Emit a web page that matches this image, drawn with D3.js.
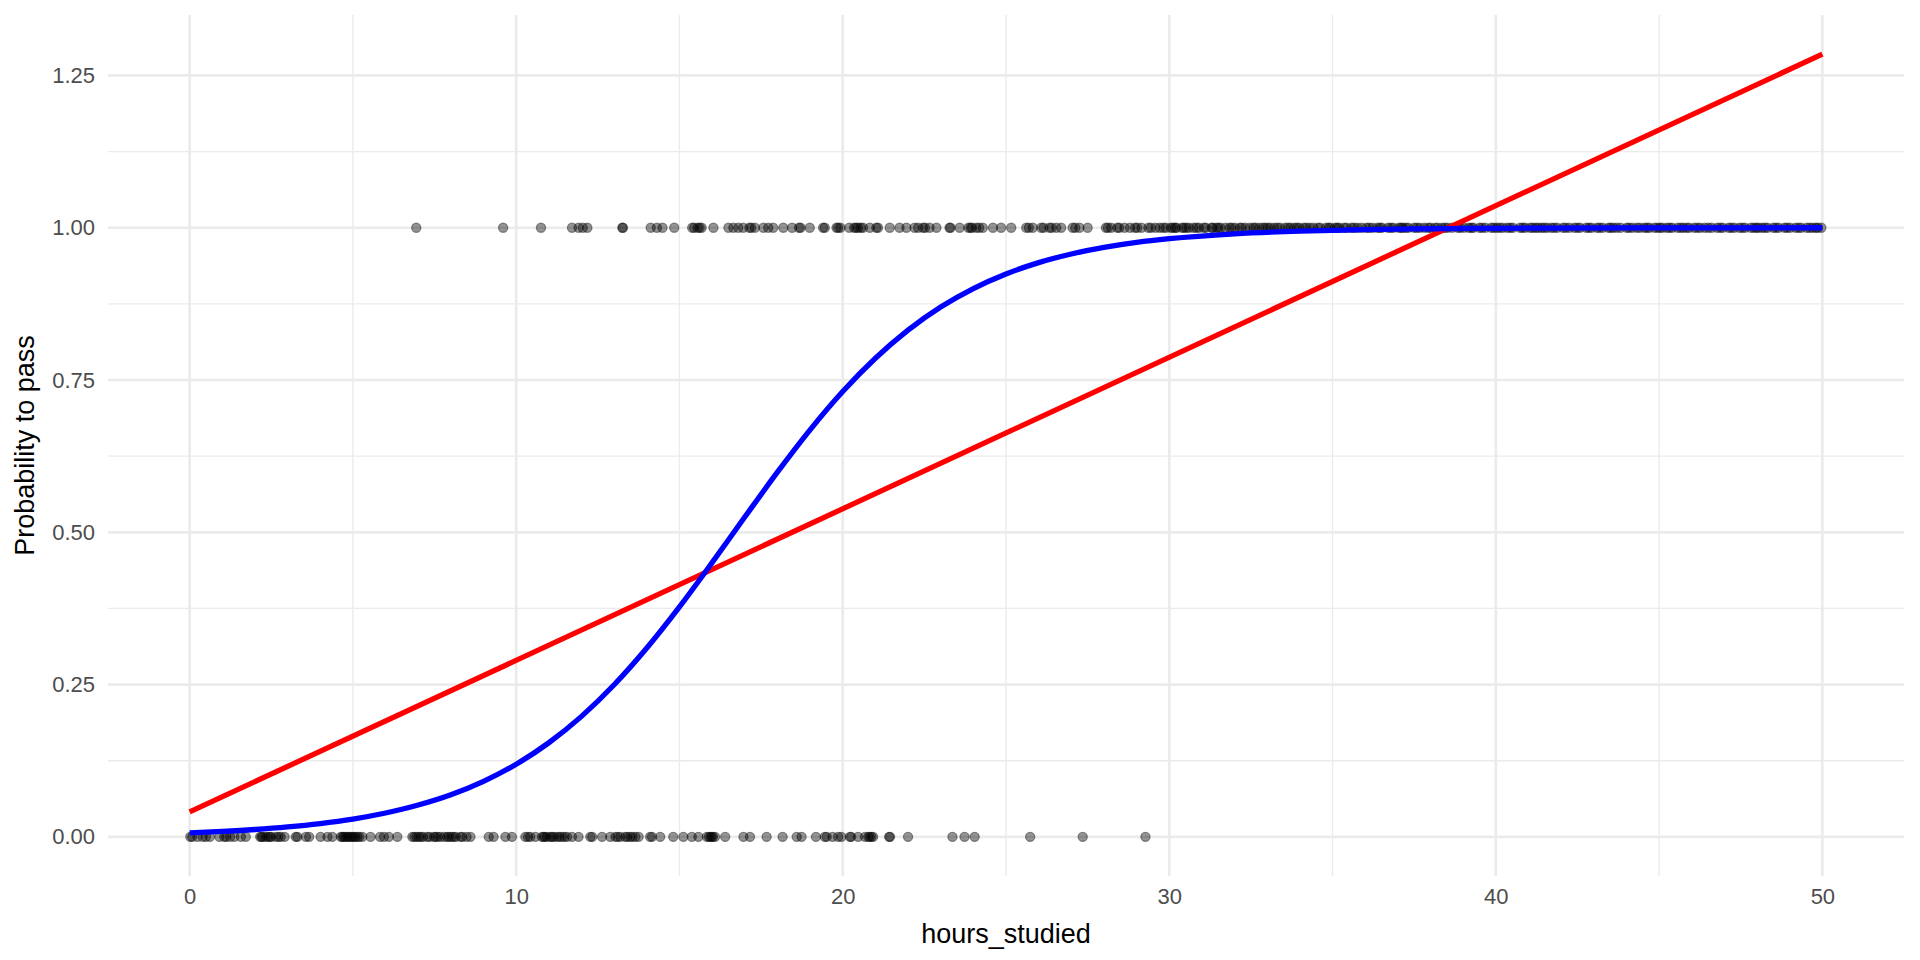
<!DOCTYPE html>
<html>
<head>
<meta charset="utf-8">
<script src="https://cdn.jsdelivr.net/npm/d3@7"></script>
<style>
  body { margin: 0; background: #fff; }
  text { font-family: "Liberation Sans", Arial, sans-serif; }
</style>
</head>
<body>
<div id="chart"></div>
<script>
var w = 1920, h = 960;

// students who passed (y = 1), hours studied
var passHours = [6.94, 9.60, 10.76, 11.71, 11.91, 12.04, 12.18, 13.25, 13.27, 14.12, 14.31, 14.48, 14.84,
  15.39, 15.45, 15.56, 15.68, 16.04, 16.50, 16.65, 16.80, 16.95, 17.14, 17.31,
  17.57, 17.72, 17.87, 18.18, 18.45, 18.71, 18.99, 19.40, 19.45, 19.81, 19.86, 20.20, 20.35, 20.41,
  20.47, 20.62, 20.83, 21.03, 21.44, 21.74, 21.95, 22.20, 22.46, 22.52, 22.66, 22.87, 23.27, 23.30,
  23.58, 23.91, 23.96, 24.09, 24.29, 24.60, 24.85, 25.16, 25.62, 25.82, 26.08, 26.33, 26.40, 26.54,
  26.69, 27.04, 27.25, 27.50, 28.06, 28.12, 28.22,
  28.41, 28.63, 28.80, 29.02, 29.15, 29.36, 29.58, 29.71, 29.90, 30.05, 30.18, 30.22, 30.39, 30.52,
  30.60, 30.74, 30.91, 31.06, 31.30, 31.33, 31.44, 31.57, 31.72, 31.85, 32.01, 32.16, 32.33, 32.47,
  32.58, 32.76, 32.94, 33.02, 33.10, 33.22, 33.39, 33.55, 33.71, 33.83, 33.98, 34.12, 34.30, 34.41,
  34.62, 34.80, 34.93, 35.08, 35.20, 35.43, 35.58, 35.76, 35.89, 36.04, 36.22, 36.37, 36.51, 36.70,
  36.86, 37.03, 37.10, 37.15, 37.32, 37.50, 37.67, 37.81, 38.00, 38.14, 38.35, 38.52, 38.66, 38.84,
  39.02, 39.17, 39.31, 39.50, 39.68, 39.86, 40.03, 40.21, 40.35, 40.52, 40.74, 40.90, 41.05, 41.22,
  41.30, 41.40, 41.57, 41.70, 41.88, 42.06, 42.25, 42.41, 42.58, 42.77, 42.93, 43.10, 43.27, 43.45,
  43.60, 43.82, 44.01, 44.18, 44.32, 44.55, 44.70, 44.86, 45.03, 45.10, 45.24, 45.40, 45.57, 45.74,
  45.92, 46.08, 46.26, 46.40, 46.61, 46.78, 46.95, 47.13, 47.30, 47.46, 47.63, 47.81, 47.98, 48.04,
  48.15, 48.32, 48.50, 48.66, 48.84, 49.01, 49.18, 49.35, 49.52, 49.70, 49.86, 49.97,
  15.62, 17.20, 18.66, 19.93, 20.55, 21.08, 22.31, 23.85, 24.18, 25.70, 26.15, 27.12,
  28.47, 28.95, 29.44, 29.82, 30.11, 30.45, 30.83, 31.12, 31.50, 31.91, 32.22, 32.64, 32.87, 33.31,
  33.64, 33.91, 34.20, 34.55, 34.88, 35.14, 35.35, 35.66, 36.12, 36.45, 36.78, 37.24, 37.58, 37.93,
  38.22, 38.44, 38.91, 39.25, 39.58, 39.94, 40.12, 40.44, 40.82, 41.13, 41.48, 41.79, 42.14, 42.50,
  42.85, 43.18, 43.52, 43.71, 44.08, 44.41, 44.63, 44.95, 45.32, 45.66, 45.84, 46.17, 46.51, 46.87,
  47.21, 47.55, 47.90, 48.24, 48.58, 48.92, 49.27, 49.61, 49.80];

// students who failed (y = 0), hours studied
var failHours = [0.02, 0.24, 0.40, 0.50, 0.91, 1.06, 1.24, 1.37, 1.57, 1.72, 2.16, 2.20, 2.33, 2.46,
  2.50, 2.64, 2.79, 2.91, 3.25, 3.56, 3.66, 4.01, 4.22, 4.37, 4.68, 4.72, 4.83, 4.88, 4.98, 5.03,
  5.14, 5.29, 5.54, 5.83, 5.95, 6.10, 6.36, 6.82, 7.02, 7.08, 7.28, 7.48, 7.53, 7.68, 7.89, 7.95,
  8.09, 8.30, 8.35, 8.60, 9.16, 9.31, 9.67,
  9.87, 10.28, 10.43, 10.59, 10.79, 10.84, 10.94, 11.10, 11.15, 11.25, 11.40, 11.56, 11.71, 11.91,
  12.27, 12.63, 12.88, 13.04, 13.19, 13.34, 13.40, 13.49, 13.65, 13.75, 14.10, 14.41, 14.81, 15.12,
  15.38, 15.58, 15.84, 15.90, 15.99, 16.09, 16.40, 16.96, 17.16, 17.67, 18.16, 18.59, 18.74,
  19.18, 19.45, 19.69, 19.86, 19.96, 20.22, 20.47, 20.68, 20.78, 20.83, 20.93, 21.42, 21.45, 22.00,
  23.36, 23.73, 24.04, 25.74, 27.35, 29.27,
  0.08, 0.62, 1.12, 2.24, 2.40, 2.72, 3.30, 4.63, 4.77, 4.93, 5.08, 5.20, 6.88, 6.95, 7.15, 7.35,
  7.60, 7.80, 8.02, 8.15, 8.48, 10.36, 10.88, 11.04, 11.32, 11.48, 12.33, 13.11, 13.56, 14.16,
  15.95, 16.03, 19.51, 20.26, 20.88];

// fitted logistic curve
var logitX = [0, 1, 2, 3, 4, 5, 6, 7, 8, 9, 10, 11, 12, 13, 14, 15, 16, 17, 18, 19, 20, 21, 22, 23, 24,
  25, 26, 27, 28, 29, 30, 32, 34, 36, 38, 40, 42, 44, 46, 48, 50];
var logitY = [0.0067, 0.0090, 0.0121, 0.0163, 0.0219, 0.0293, 0.0392, 0.0522, 0.0691, 0.0911, 0.1192,
  0.1545, 0.1978, 0.2497, 0.3100, 0.3775, 0.4502, 0.5250, 0.5987, 0.6682, 0.7311, 0.7858, 0.8320,
  0.8699, 0.9002, 0.9241, 0.9427, 0.9569, 0.9677, 0.9759, 0.9820, 0.9900, 0.9945, 0.9970, 0.9983,
  0.9991, 0.9995, 0.9997, 0.9998, 0.9999, 1.0000];

// fitted linear model, endpoints
var linearX = [0, 50];
var linearY = [0.041, 1.285];

var xTicks = [0, 10, 20, 30, 40, 50];
var xMinor = [5, 15, 25, 35, 45];
var yTicks = [0, 0.25, 0.5, 0.75, 1, 1.25];
var yMinor = [0.125, 0.375, 0.625, 0.875, 1.125];

var panelL = 108, panelR = 1904, panelT = 15, panelB = 876;

var x = d3.scaleLinear().domain([-2.5, 52.5]).range([panelL, panelR]);
var y = d3.scaleLinear().domain([-0.06425, 1.34925]).range([panelB, panelT]);

var svg = d3.select('#chart').append('svg')
  .attr('width', w)
  .attr('height', h);

var grid = svg.append('g');

// minor grid
grid.selectAll('.vminor').data(xMinor).enter().append('line')
  .attr('x1', function(d) { return x(d); })
  .attr('x2', function(d) { return x(d); })
  .attr('y1', panelT).attr('y2', panelB)
  .attr('stroke', '#EBEBEB').attr('stroke-width', 1.35);
grid.selectAll('.hminor').data(yMinor).enter().append('line')
  .attr('y1', function(d) { return y(d); })
  .attr('y2', function(d) { return y(d); })
  .attr('x1', panelL).attr('x2', panelR)
  .attr('stroke', '#EBEBEB').attr('stroke-width', 1.35);

// major grid
grid.selectAll('.vmajor').data(xTicks).enter().append('line')
  .attr('x1', function(d) { return x(d); })
  .attr('x2', function(d) { return x(d); })
  .attr('y1', panelT).attr('y2', panelB)
  .attr('stroke', '#EBEBEB').attr('stroke-width', 2.7);
grid.selectAll('.hmajor').data(yTicks).enter().append('line')
  .attr('y1', function(d) { return y(d); })
  .attr('y2', function(d) { return y(d); })
  .attr('x1', panelL).attr('x2', panelR)
  .attr('stroke', '#EBEBEB').attr('stroke-width', 2.7);

// axes (text only, like theme_minimal)
svg.append('g')
  .attr('transform', 'translate(0,' + panelB + ')')
  .call(d3.axisBottom(x).tickValues(xTicks).tickSize(0).tickPadding(12).tickFormat(d3.format('d')));
svg.append('g')
  .attr('transform', 'translate(' + panelL + ',0)')
  .call(d3.axisLeft(y).tickValues(yTicks).tickSize(0).tickPadding(13).tickFormat(d3.format('.2f')));
svg.selectAll('.domain').remove();
svg.selectAll('.tick text')
  .style('font-family', '"Liberation Sans", Arial, sans-serif')
  .style('font-size', '22px')
  .attr('fill', '#4D4D4D');

// points
var pts = svg.append('g');
function drawPoints(data, val) {
  pts.selectAll(null).data(data).enter().append('circle')
    .attr('cx', function(d) { return x(d); })
    .attr('cy', y(val))
    .attr('r', 4.6)
    .attr('fill', '#000')
    .attr('fill-opacity', 0.42)
    .attr('stroke', '#000')
    .attr('stroke-opacity', 0.42)
    .attr('stroke-width', 1.2);
}
drawPoints(failHours, 0);
drawPoints(passHours, 1);

// linear fit
var linePts = linearX.map(function(d, i) { return [d, linearY[i]]; });
svg.append('path')
  .datum(linePts)
  .attr('fill', 'none')
  .attr('stroke', '#FF0000')
  .attr('stroke-width', 5.3)
  .attr('d', d3.line().x(function(d) { return x(d[0]); }).y(function(d) { return y(d[1]); }));

// logistic fit
var logitPts = logitX.map(function(d, i) { return [d, logitY[i]]; });
svg.append('path')
  .datum(logitPts)
  .attr('fill', 'none')
  .attr('stroke', '#0000FF')
  .attr('stroke-width', 5.3)
  .attr('d', d3.line().curve(d3.curveMonotoneX).x(function(d) { return x(d[0]); }).y(function(d) { return y(d[1]); }));

// axis titles
svg.append('text')
  .attr('x', (panelL + panelR) / 2)
  .attr('y', 943)
  .attr('text-anchor', 'middle')
  .style('font-size', '27px')
  .attr('fill', '#000')
  .text('hours_studied');

svg.append('text')
  .attr('transform', 'translate(34,' + ((panelT + panelB) / 2) + ') rotate(-90)')
  .attr('text-anchor', 'middle')
  .style('font-size', '27px')
  .attr('fill', '#000')
  .text('Probability to pass');
</script>
</body>
</html>
